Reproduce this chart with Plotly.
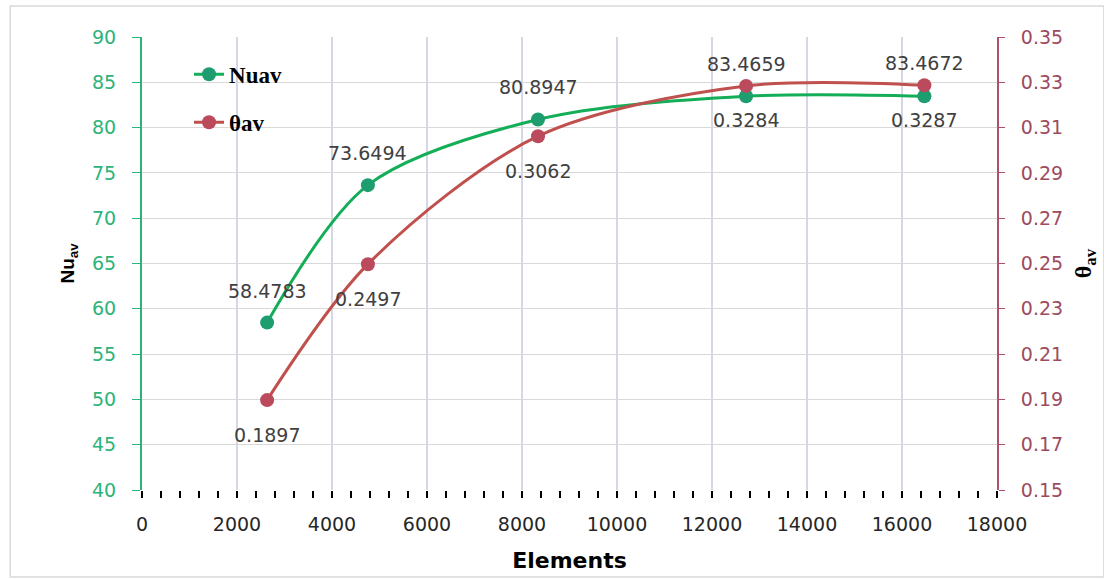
import plotly.graph_objects as go

elements = [2634, 4756, 8337, 12717, 16471]
nu_av = [58.4783, 73.6494, 80.8947, 83.4659, 83.4672]
theta_av = [0.1897, 0.2497, 0.3062, 0.3284, 0.3287]
nu_labels = ["58.4783", "73.6494", "80.8947", "83.4659", "83.4672"]
theta_labels = ["0.1897", "0.2497", "0.3062", "0.3284", "0.3287"]

GREEN_LINE = "#13AE57"
GREEN_MK = "#1E9E6E"
RED_LINE = "#C0504D"
RED_MK = "#BA4A5C"
GREEN_AX = "#2DB37A"
RED_AX = "#B2506A"

fig = go.Figure()
fig.add_trace(go.Scatter(
    x=elements, y=nu_av, name="Nuav", mode="lines+markers",
    line=dict(color=GREEN_LINE, width=3, shape="spline", smoothing=0.9),
    marker=dict(color=GREEN_MK, size=14), legendgroup="a", yaxis="y"))
fig.add_trace(go.Scatter(
    x=elements, y=theta_av, name="θav", mode="lines+markers",
    line=dict(color=RED_LINE, width=3, shape="spline", smoothing=0.9),
    marker=dict(color=RED_MK, size=14), legendgroup="b", yaxis="y2"))

ann = []
lab_font = dict(family="DejaVu Sans", size=19, color="#404040")
for i, (x, n, t) in enumerate(zip(elements, nu_av, theta_av)):
    if i < 3:
        ann.append(dict(x=x, y=n, xref="x", yref="y", text=nu_labels[i],
                        showarrow=False, yshift=32, font=lab_font))
        ann.append(dict(x=x, y=t, xref="x", yref="y2", text=theta_labels[i],
                        showarrow=False, yshift=-35, font=lab_font))
    else:
        ann.append(dict(x=x, y=t, xref="x", yref="y2", text=nu_labels[i],
                        showarrow=False, yshift=22, font=lab_font))
        ann.append(dict(x=x, y=n, xref="x", yref="y", text=theta_labels[i],
                        showarrow=False, yshift=-24, font=lab_font))

tick_font = dict(family="DejaVu Sans", size=19)

fig.update_layout(
    width=1104, height=580,
    margin=dict(l=142, r=99, t=37, b=90),
    paper_bgcolor="white", plot_bgcolor="white",
    showlegend=True,
    legend=dict(x=0.055, y=0.965, xanchor="left", yanchor="top",
                bgcolor="rgba(0,0,0,0)", tracegroupgap=15,
                font=dict(family="Liberation Serif", size=23, color="black", weight="bold")),
    annotations=ann,
    xaxis=dict(range=[0, 18000], dtick=2000, tick0=0, tickformat="d",
               showgrid=True, gridcolor="#D6D6E4", gridwidth=2,
               showline=False, zeroline=False,
               ticks="outside", ticklen=7, tickwidth=2, tickcolor="black",
               ticklabelstandoff=10,
               minor=dict(dtick=400, ticks="outside", ticklen=7, tickwidth=2,
                          tickcolor="black", showgrid=False),
               tickfont=dict(tick_font, color="#262626"),
               title=dict(text="Elements", standoff=18,
                          font=dict(family="DejaVu Sans", size=22, color="black", weight="bold"))),
    yaxis=dict(range=[40, 90], dtick=5, tick0=40,
               showgrid=True, gridcolor="#D9D9D9", gridwidth=1,
               showline=True, linecolor=GREEN_AX, linewidth=2,
               zeroline=False, ticks="outside", ticklen=8, tickcolor=GREEN_AX,
               ticklabelstandoff=12,
               tickfont=dict(tick_font, color=GREEN_AX),
               title=dict(text="Nu<sub>av</sub>", standoff=12,
                          font=dict(family="Liberation Sans", size=19, color="black", weight="bold"))),
    yaxis2=dict(range=[0.15, 0.35], dtick=0.02, tick0=0.15, overlaying="y", side="right",
                showgrid=False, showline=True, linecolor=RED_AX, linewidth=2,
                zeroline=False, ticks="outside", ticklen=6, tickcolor=RED_AX,
                ticklabelstandoff=12, tickformat=".2f",
                tickfont=dict(tick_font, color="#9E4A5E"),
                title=dict(text="θ<sub>av</sub>", standoff=12,
                           font=dict(family="Liberation Serif", size=24, color="black", weight="bold"))),
    shapes=[dict(type="rect", xref="paper", yref="paper",
                 x0=-0.1541, x1=1.125, y0=-0.192, y1=1.0684,
                 line=dict(color="#D9D9D9", width=1.5), layer="below")],
)

fig.write_html("out.html")
